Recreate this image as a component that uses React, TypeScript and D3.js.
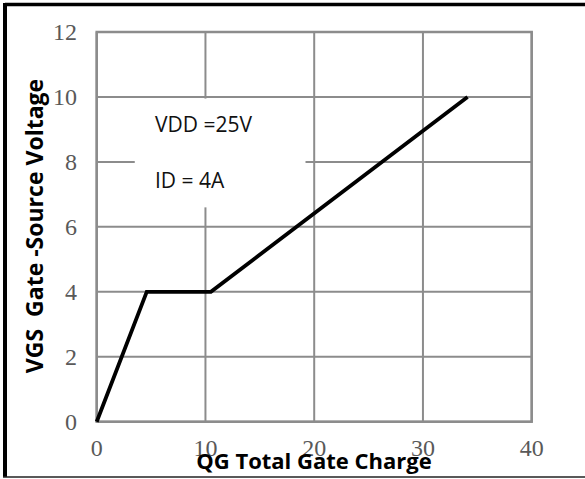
import React, { useEffect, useRef } from 'react';
import * as d3 from 'd3';

// gate charge curve (nC, V)
const qg = [0, 4.6, 10.5, 34.1];
const vgs = [0, 4, 4, 10];
const xTicks = [0, 10, 20, 30, 40];
const yTicks = [0, 2, 4, 6, 8, 10, 12];
const notes = ['VDD =25V', 'ID = 4A'];

const W = 585;
const H = 479;

function GateCharge() {
  const ref = useRef<SVGSVGElement>(null);

  useEffect(() => {
    const svg = d3.select(ref.current);
    svg.selectAll('*').remove();

    const x = d3.scaleLinear().domain([0, 40]).range([96.7, 531.7]);
    const y = d3.scaleLinear().domain([0, 12]).range([421.7, 32]);

    svg.append('rect').attr('width', W).attr('height', H).attr('fill', '#fff');

    // outer frame
    svg.append('line').attr('x1', 5).attr('x2', W).attr('y1', 4.5).attr('y2', 4.5)
      .attr('stroke', '#000').attr('stroke-width', 3.5);
    svg.append('line').attr('x1', 5).attr('x2', 5).attr('y1', 3).attr('y2', 477)
      .attr('stroke', '#000').attr('stroke-width', 4);
    svg.append('line').attr('x1', 3).attr('x2', W).attr('y1', 477).attr('y2', 477)
      .attr('stroke', '#222').attr('stroke-width', 1.5);

    const grid = svg.append('g').attr('stroke', '#8c8c8c').attr('stroke-width', 2);
    grid.selectAll('.h').data(yTicks).join('line')
      .attr('x1', x(0)).attr('x2', x(40))
      .attr('y1', d => y(d)).attr('y2', d => y(d));
    grid.selectAll('.v').data(xTicks).join('line')
      .attr('y1', y(0)).attr('y2', y(12))
      .attr('x1', d => x(d)).attr('x2', d => x(d));
    // plot frame
    svg.append('rect')
      .attr('x', x(0)).attr('y', y(12))
      .attr('width', x(40) - x(0)).attr('height', y(0) - y(12))
      .attr('fill', 'none').attr('stroke', '#8c8c8c').attr('stroke-width', 2.5);

    // white box behind the notes
    svg.append('rect')
      .attr('x', x(3.5)).attr('y', y(9.95))
      .attr('width', x(19.2) - x(3.5)).attr('height', y(6.6) - y(9.95))
      .attr('fill', '#fff');

    svg.append('g').selectAll('text').data(notes).join('text')
      .attr('x', 155)
      .attr('y', (d, i) => 132 + i * 56)
      .attr('font-family', 'Open Sans')
      .attr('font-size', 21)
      .attr('fill', '#111')
      .text(d => d);

    const line = d3.line<number>()
      .x((d, i) => x(qg[i]))
      .y(d => y(d));
    svg.append('path')
      .datum(vgs)
      .attr('d', line)
      .attr('fill', 'none')
      .attr('stroke', '#000')
      .attr('stroke-width', 3.8)
      .attr('stroke-linejoin', 'miter');

    // tick labels
    svg.append('g').selectAll('text').data(yTicks).join('text')
      .attr('x', 77)
      .attr('y', d => y(d) + 8)
      .attr('text-anchor', 'end')
      .attr('font-family', 'Liberation Serif')
      .attr('font-size', 24)
      .attr('fill', '#595959')
      .text(d => d);
    svg.append('g').selectAll('text').data(xTicks).join('text')
      .attr('x', d => x(d))
      .attr('y', 456)
      .attr('text-anchor', 'middle')
      .attr('font-family', 'Liberation Serif')
      .attr('font-size', 24)
      .attr('fill', '#595959')
      .text(d => d);

    svg.append('text')
      .attr('x', 314)
      .attr('y', 469)
      .attr('text-anchor', 'middle')
      .attr('font-family', 'Open Sans')
      .attr('font-weight', 'bold')
      .attr('font-size', 22)
      .attr('fill', '#000')
      .text('QG Total Gate Charge');

    svg.append('text')
      .attr('transform', 'translate(43,226) rotate(-90)')
      .attr('text-anchor', 'middle')
      .attr('font-family', 'Open Sans')
      .attr('font-weight', 'bold')
      .attr('font-size', 23)
      .attr('fill', '#000')
      .attr('xml:space', 'preserve')
      .style('white-space', 'pre')
      .text('VGS  Gate -Source Voltage');
  }, []);

  return (
    <svg
      ref={ref}
      width={W}
      height={H}
      style={{ position: 'absolute', left: 0, top: 0, display: 'block' }}
    />
  );
}

export default function App() {
  return <GateCharge />;
}
